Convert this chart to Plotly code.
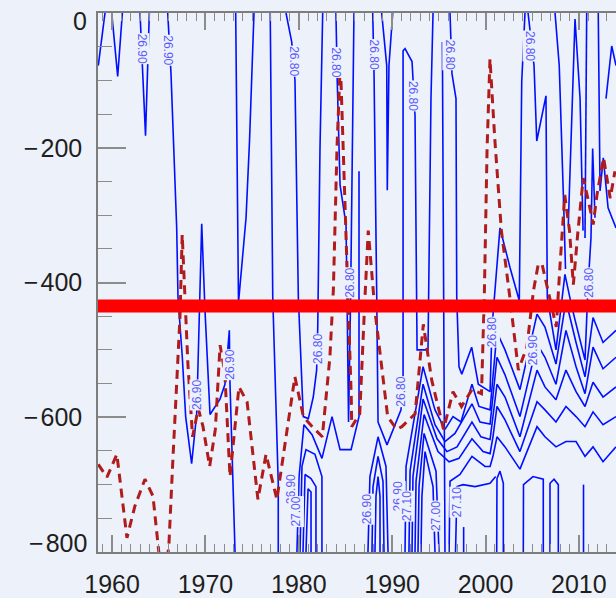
import plotly.graph_objects as go

# ---------------------------------------------------------------
# Mixed-layer depth (m, negative downward) - red dashed curve
# ---------------------------------------------------------------
mld_year = [1958.52, 1959.45, 1960.51, 1961.59, 1962.44, 1963.52, 1964.38, 1964.92, 1965.23, 1965.78,
            1966.09, 1966.49, 1966.95, 1967.27, 1967.51, 1967.81, 1968.12, 1968.62, 1969.23, 1969.74,
            1970.45, 1971.06, 1971.57, 1972.07, 1972.63, 1973.59, 1974.46, 1975.62, 1976.49, 1977.65,
            1978.77, 1979.58, 1980.49, 1981.51, 1982.52, 1983.33, 1983.70, 1984.09, 1984.45, 1984.75,
            1985.31, 1985.62, 1985.67, 1986.53, 1987.09, 1987.44, 1988.15, 1988.88, 1989.52, 1990.49,
            1991.04, 1992.46, 1993.34, 1994.24, 1995.51, 1996.52, 1997.43, 1998.55, 1999.57, 1999.87,
            2000.17, 2000.48, 2000.99, 2001.70, 2002.61, 2003.52, 2004.43, 2005.14, 2005.65, 2006.06,
            2006.87, 2007.58, 2007.99, 2008.49, 2009.00, 2009.41, 2009.91, 2010.47, 2011.03, 2011.54,
            2011.94, 2012.65, 2013.36, 2013.87]
mld_depth = [-670, -689, -655, -779, -732, -692, -717, -788, -830, -830,
             -788, -669, -536, -452, -329, -422, -521, -629, -587, -614,
             -673, -618, -493, -533, -688, -555, -577, -722, -655, -722,
             -618, -540, -599, -615, -629, -511, -412, -201, -71, -201,
             -412, -570, -614, -595, -422, -323, -441, -521, -599, -618,
             -614, -595, -462, -545, -618, -562, -584, -559, -565, -422,
             -201, -68, -186, -323, -422, -530, -496, -412, -373, -373,
             -422, -466, -373, -270, -323, -403, -323, -245, -279, -314,
             -270, -215, -275, -235]

# Reference depth level (m)
ref_depth = -435

# ---------------------------------------------------------------
# Isopycnal contour segments (year, depth in m)
# ---------------------------------------------------------------
# sigma 26.90 contours, 1958-1978
sig2690_yr = [
    [1958.52, 1959.24],
    [1959.96, 1960.60, 1961.10],
    [1962.99, 1963.58, 1963.99],
    [1965.96, 1966.10, 1966.31, 1966.92, 1967.06, 1967.52, 1967.88, 1968.52, 1969.06, 1969.17,
     1969.60, 1969.95, 1970.49, 1971.56, 1972.09, 1972.56, 1972.63, 1973.17],
    [1973.24, 1973.54, 1974.35, 1974.72, 1975.20],
    [1976.94, 1977.21, 1977.80, 1977.80],
]
sig2690_z = [
    [-78, 0],
    [0, -94, 0],
    [0, -182, 0],
    [0, -31, -90, -319, -422, -511, -599, -669, -595, -540,
     -313, -441, -596, -573, -551, -471, -551, -800],
    [0, -430, -304, -190, 0],
    [0, -422, -698, -800],
]

# sigma 26.80 contours, 1978-2014
sig2680_yr = [
    [1978.63, 1979.24, 1979.59, 1979.95, 1980.48, 1981.02, 1981.55, 1981.91, 1982.03, 1982.06, 1982.27, 1982.56],
    [1983.98, 1984.12, 1984.42, 1985.06, 1985.17, 1985.33, 1985.55, 1985.70, 1985.91],
    [1979.80, 1980.03, 1980.55, 1981.42, 1982.48, 1983.56, 1984.42, 1985.60, 1986.45, 1986.45],
    [1987.92, 1988.06, 1988.35, 1988.49, 1989.45, 1990.95, 1991.17, 1991.17, 1991.38, 1992.13,
     1992.45, 1992.67, 1992.67, 1993.84, 1994.16, 1994.38],
    [1988.88, 1989.42, 1989.48, 1989.66, 1990.06],
    [1995.38, 1995.48, 1995.61, 1995.66],
    [1996.20, 1996.41, 1996.84, 1996.92, 1997.16, 1997.46, 1998.52, 1999.23, 2000.49, 2000.70,
     2001.55, 2002.63, 2003.62, 2003.88, 2004.23],
    [2004.56, 2004.77, 2005.20, 2005.49, 2006.48, 2006.62, 2007.55, 2008.51, 2009.26, 2010.66,
     2010.98, 2011.30, 2011.48, 2011.73],
    [2007.45, 2007.90, 2008.41, 2008.57],
    [2008.87, 2009.59, 2010.13, 2010.45],
    [2010.84, 2010.66],
    [2012.08, 2012.27, 2012.62, 2013.13, 2013.98],
    [2012.91, 2013.52, 2013.98],
]
sig2680_z = [
    [0, -43, -100, -422, -599, -602, -570, -530, -466, -422, -201, 0],
    [0, -102, -255, -314, -422, -607, -422, -201, 0],
    [-800, -688, -611, -626, -661, -599, -648, -648, -599, -235],
    [0, -90, -422, -607, -641, -589, -540, -56, -53, -72,
     -152, -422, -500, -500, -127, 0],
    [0, -78, -263, -78, 0],
    [-43, -422, -673, -800],
    [0, -90, -127, -422, -525, -536, -496, -551, -562, -466,
     -319, -378, -427, -102, 0],
    [0, -28, -78, -190, -123, -422, -500, -388, -437, -515,
     -407, -334, -201, -304],
    [0, -78, -300, -380],
    [-314, -9, -127, -323],
    [0, -334],
    [0, -264, -215, -289, -319],
    [-127, -49, -78],
]

# intermediate isopycnals (26.82 - 26.98), 1991-2014
sigmid_yr = [
    [1991.38, 1991.49, 1993.31, 1994.59, 1995.66, 1996.52, 1997.37, 1998.55, 1999.30, 2000.49,
     2000.80, 2001.23, 2002.09, 2003.69, 2005.52, 2006.37, 2007.55, 2008.62, 2009.70, 2010.66,
     2011.52, 2012.59, 2013.98],
    [1991.80, 1991.92, 1993.31, 1994.59, 1995.66, 1996.73, 1998.55, 1999.41, 2000.49, 2000.80,
     2001.23, 2002.09, 2003.69, 2005.52, 2006.37, 2007.55, 2008.62, 2009.70, 2010.66, 2011.52,
     2012.59, 2013.98],
    [1992.13, 1992.23, 1993.31, 1994.81, 1995.87, 1996.95, 1998.55, 1999.51, 2000.49, 2000.80,
     2001.23, 2002.09, 2003.69, 2005.52, 2006.37, 2007.55, 2008.62, 2009.70, 2010.66, 2011.52,
     2012.59, 2013.98],
    [1992.45, 1992.56, 1993.42, 1994.91, 1996.10, 1997.16, 1998.55, 1999.74, 2000.49, 2000.80,
     2001.23, 2002.09, 2003.69, 2005.52, 2006.37, 2007.55, 2008.62, 2009.70, 2010.66, 2011.52,
     2012.59, 2013.98],
    [1996.10, 1996.20, 1997.27, 1998.55, 1999.95, 2000.49, 2000.80, 2001.23, 2002.09, 2003.69,
     2005.52, 2006.37, 2007.55, 2008.62, 2009.70, 2010.66, 2011.52, 2012.59, 2013.98],
]
sigmid_z = [
    [-800, -673, -525, -589, -618, -599, -607, -551, -584, -589,
     -540, -474, -500, -559, -447, -466, -521, -427, -489, -540,
     -452, -489, -471],
    [-800, -680, -551, -611, -636, -624, -580, -607, -610, -570,
     -511, -537, -599, -491, -511, -551, -471, -525, -565, -496,
     -528, -511],
    [-800, -688, -573, -632, -651, -644, -607, -629, -633, -599,
     -551, -570, -629, -530, -555, -574, -530, -562, -584, -548,
     -570, -555],
    [-800, -695, -596, -651, -666, -661, -632, -651, -654, -629,
     -584, -604, -651, -577, -589, -607, -584, -599, -614, -592,
     -611, -599],
    [-800, -695, -685, -658, -673, -673, -658, -629, -644, -677,
     -614, -629, -644, -636, -636, -658, -644, -666, -644],
]

# deep isopycnals (27.00 - 27.10)
sigdeep_yr = [
    [1980.13, 1980.34, 1980.77, 1981.73, 1982.48, 1982.48],
    [1980.45, 1980.67, 1981.31, 1981.84, 1981.84],
    [1980.77, 1980.99, 1981.31, 1981.31],
    [1987.41, 1987.62, 1988.49, 1989.34, 1989.56],
    [1987.84, 1987.95, 1988.49, 1989.02, 1989.13],
    [1988.16, 1988.27, 1988.49, 1988.70, 1988.70],
    [1992.77, 1992.88, 1993.42, 1994.70, 1995.02],
    [1993.09, 1993.19, 1993.52, 1994.38, 1994.59],
    [1996.79, 1996.95, 1997.59, 1998.88, 2000.49, 2001.09],
    [2001.20, 2001.23, 2001.55, 2001.91, 2001.91],
    [2004.05, 2004.07, 2005.09, 2006.19, 2006.19],
    [2006.91, 2006.91, 2007.34, 2007.80, 2007.80],
    [2010.50, 2010.50],
    [1997.66, 1997.66],
]
sigdeep_z = [
    [-800, -673, -648, -655, -688, -800],
    [-800, -685, -691, -703, -800],
    [-800, -706, -711, -800],
    [-800, -688, -629, -673, -800],
    [-800, -703, -658, -695, -800],
    [-800, -717, -688, -717, -800],
    [-800, -703, -624, -680, -800],
    [-800, -717, -651, -703, -800],
    [-800, -703, -700, -703, -698, -688],
    [-800, -691, -680, -698, -800],
    [-800, -700, -688, -692, -800],
    [-800, -698, -692, -700, -800],
    [-700, -800],
    [-763, -800],
]

# Contour labels: position (year, depth), text, rotation
label_yr = [1963.21, 1966.04, 1969.09, 1972.63, 1979.45, 1982.03, 1984.03, 1985.41, 1988.01, 1992.23,
            1996.20, 2004.77, 1990.95, 2000.78, 2005.12, 2011.02, 1979.16, 1979.70, 1987.27, 1990.66,
            1991.59, 1994.78, 1996.95]
label_z = [-53, -56, -567, -522, -71, -499, -74, -400, -61, -123,
           -62, -49, -562, -474, -500, -400, -707, -740, -737, -717,
           -732, -747, -726]
label_txt = ["26.90", "26.90", "26.90", "26.90", "26.80", "26.80", "26.80", "26.80", "26.80", "26.80",
             "26.80", "26.80", "26.80", "26.80", "26.90", "26.80", "26.90", "27.00", "26.90", "26.90",
             "27.10", "27.00", "27.10"]
label_rot = [90, 90, -90, -90, 90, -90, 90, -90, 90, 90,
             90, 90, -90, -90, -90, -90, -90, -90, -90, -90,
             -90, -90, -90]

x_range = [1958.49, 2013.98]
y_range = [-800, 0]
y_ticks = [-800, -600, -400, -200, 0]
x_ticks = [1960, 1970, 1980, 1990, 2000, 2010]

BG = "#edf1f9"
LINE_BLUE = "#0010ff"
LABEL_BLUE = "#5a5aff"
MLD_RED = "#b01c1c"
TICK_GREY = "#8c8c8c"
TEXT_C = "#1e1e1e"
FONT = "Liberation Sans"


def join_segments(seg_x, seg_y):
    xs, ys = [], []
    for sx, sy in zip(seg_x, seg_y):
        xs.extend(sx + [None])
        ys.extend(sy + [None])
    return xs, ys


def depth_label(v):
    return ("\u2212\u200a" + str(abs(v))) if v < 0 else str(v)


fig = go.Figure()

for seg_x, seg_y in [(sig2690_yr, sig2690_z), (sig2680_yr, sig2680_z),
                     (sigmid_yr, sigmid_z), (sigdeep_yr, sigdeep_z)]:
    xs, ys = join_segments(seg_x, seg_y)
    fig.add_trace(go.Scatter(x=xs, y=ys, mode="lines",
                             line=dict(color=LINE_BLUE, width=1.6),
                             hoverinfo="skip"))

fig.add_trace(go.Scatter(x=mld_year, y=mld_depth, mode="lines",
                         line=dict(color=MLD_RED, width=3, dash="9px,6px"),
                         hoverinfo="skip"))

fig.add_trace(go.Scatter(x=x_range, y=[ref_depth, ref_depth], mode="lines",
                         line=dict(color="#ff0000", width=13),
                         hoverinfo="skip"))

for xv, yv, txt, rot in zip(label_yr, label_z, label_txt, label_rot):
    fig.add_annotation(x=xv, y=yv, xref="x", yref="y", text=txt, textangle=rot,
                       showarrow=False, bgcolor=BG, borderpad=0,
                       font=dict(family=FONT, size=12, color=LABEL_BLUE))

# end labels of the depth axis sit just inside the axis extent
for v, shift in [(y_ticks[-1], -8), (y_ticks[0], 9)]:
    fig.add_annotation(x=0, xref="paper", y=v, yref="y", text=depth_label(v),
                       showarrow=False, xanchor="right", yanchor="middle",
                       xshift=-9, yshift=shift,
                       font=dict(family=FONT, size=25, color=TEXT_C))

fig.update_layout(
    width=616, height=598,
    margin=dict(l=98, r=0, t=13, b=40),
    paper_bgcolor=BG, plot_bgcolor=BG,
    showlegend=False,
    font=dict(family=FONT, size=25, color=TEXT_C),
)

fig.update_xaxes(
    range=x_range, tickvals=x_ticks, ticktext=[str(v) for v in x_ticks],
    ticks="inside", ticklen=17, tickwidth=1.5, tickcolor=TICK_GREY,
    showline=True, linecolor="#7d7d7d", linewidth=1.5, mirror="ticks",
    showgrid=False, zeroline=False, ticklabelstandoff=9,
    minor=dict(tick0=1960, dtick=1, ticks="inside", ticklen=8,
               tickwidth=1.2, tickcolor=TICK_GREY, showgrid=False),
)

fig.update_yaxes(
    range=y_range, tickvals=y_ticks,
    ticktext=["" if v in (y_ticks[0], y_ticks[-1]) else depth_label(v) for v in y_ticks],
    ticks="inside", ticklen=28, tickwidth=1.5, tickcolor=TICK_GREY,
    showline=True, linecolor="#7d7d7d", linewidth=1.5, mirror=False,
    showgrid=False, zeroline=False, ticklabelstandoff=9,
    minor=dict(tick0=0, dtick=50, ticks="inside", ticklen=14,
               tickwidth=1.2, tickcolor=TICK_GREY, showgrid=False),
)

fig.write_html("out.html")
